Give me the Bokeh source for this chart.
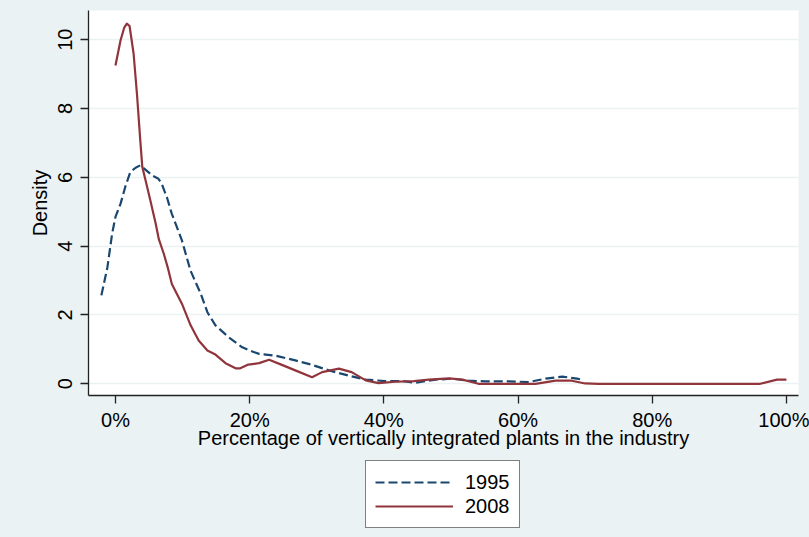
from bokeh.plotting import figure
from bokeh.models import Range1d, FixedTicker, Legend, LegendItem
from bokeh.layouts import column
from bokeh.embed import file_html
from bokeh.resources import INLINE

# ---- data (x in percent of vertically integrated plants, y = density) ----
x_1995 = [-2.1, -1.2, -0.5, 0.0, 0.75, 1.5, 2.2, 3.0, 3.7, 4.5, 5.5, 6.4, 6.9, 7.7,
          8.4, 9.9, 11.2, 12.7, 13.7, 14.9, 16.9, 18.9, 20.5, 21.4, 23.8, 26.8,
          29.3, 31.8, 34.7, 37.3, 40.2, 42.9, 44.7, 47.7, 50.2, 52.6, 55.1, 58.6,
          61.6, 64.1, 66.6, 68.8, 69.6]
density_1995 = [2.57, 3.39, 4.36, 4.85, 5.23, 5.75, 6.15, 6.28, 6.35, 6.22, 6.05, 5.96,
                5.81, 5.40, 4.94, 4.17, 3.28, 2.62, 2.08, 1.70, 1.35, 1.06, 0.93, 0.87,
                0.82, 0.68, 0.55, 0.39, 0.24, 0.12, 0.08, 0.08, 0.03, 0.12, 0.15, 0.09,
                0.07, 0.07, 0.05, 0.15, 0.21, 0.15, 0.12]

x_2008 = [0.0, 0.75, 1.3, 1.7, 2.1, 2.7, 3.2, 3.7, 4.0, 4.5, 5.2, 6.0, 6.45, 7.2, 7.85,
          8.4, 9.9, 11.2, 12.4, 13.7, 14.9, 16.4, 17.9, 18.6, 19.8, 21.4, 22.9, 24.8,
          26.8, 29.3, 30.8, 33.3, 35.2, 37.3, 39.2, 41.7, 44.5, 46.7, 49.7, 51.7, 54.1,
          62.6, 65.6, 68.0, 70.0, 72.0, 96.1, 98.6, 100.0]
density_2008 = [9.25, 9.98, 10.35, 10.47, 10.40, 9.60, 8.43, 7.07, 6.30, 5.90, 5.33, 4.65,
                4.21, 3.78, 3.34, 2.90, 2.33, 1.70, 1.26, 0.97, 0.85, 0.60, 0.45, 0.45,
                0.56, 0.60, 0.70, 0.55, 0.39, 0.19, 0.34, 0.44, 0.34, 0.10, 0.02, 0.06,
                0.08, 0.12, 0.16, 0.12, 0.00, 0.00, 0.09, 0.09, 0.01, 0.00, 0.00, 0.12,
                0.12]

series_names = ["1995", "2008"]
x_ticks = [0, 20, 40, 60, 80, 100]
x_tick_labels = ["0%", "20%", "40%", "60%", "80%", "100%"]
y_ticks = [0, 2, 4, 6, 8, 10]

BG = "#EAF2F3"
FONT = "Liberation Sans"
C1995 = "#1a476f"
C2008 = "#90353b"

# ---------------- main plot ----------------
p = figure(width=809, height=455, output_backend="svg", toolbar_location=None,
           x_range=Range1d(-4.02, 101.8), y_range=Range1d(-0.34, 10.85),
           min_border_left=88, min_border_right=11, min_border_top=10,
           min_border_bottom=60,
           background_fill_color="white", border_fill_color=BG,
           outline_line_color=None)

p.line(x_1995, density_1995, line_color=C1995, line_width=2.2,
       line_dash="9 4", line_join="round")
p.line(x_2008, density_2008, line_color=C2008, line_width=2.2,
       line_join="round")

p.xaxis.ticker = FixedTicker(ticks=x_ticks)
p.xaxis.major_label_overrides = {t: l for t, l in zip(x_ticks, x_tick_labels)}
p.yaxis.ticker = FixedTicker(ticks=y_ticks)
p.yaxis.major_label_orientation = "vertical"
p.xaxis.minor_tick_line_color = None
p.yaxis.minor_tick_line_color = None
for ax in (p.xaxis, p.yaxis):
    ax.axis_line_color = "#222222"
    ax.axis_line_width = 1.3
    ax.major_tick_line_color = "#222222"
    ax.major_tick_line_width = 1.3
    ax.major_tick_out = 8
    ax.major_tick_in = 0
    ax.major_label_text_font = FONT
    ax.major_label_text_font_size = "20px"
    ax.major_label_text_color = "black"
    ax.axis_label_text_font = FONT
    ax.axis_label_text_font_size = "20px"
    ax.axis_label_text_font_style = "normal"
    ax.axis_label_text_color = "black"

p.xaxis.axis_label = "Percentage of vertically integrated plants in the industry"
p.yaxis.axis_label = "Density"
p.xaxis.major_label_standoff = 5
p.xaxis.axis_label_standoff = -7
p.yaxis.major_label_standoff = 8
p.yaxis.axis_label_standoff = 5

p.xgrid.visible = False
p.ygrid.grid_line_color = BG
p.ygrid.grid_line_width = 1.5

# ---------------- legend strip below the plot ----------------
lg = figure(width=809, height=82, output_backend="svg", toolbar_location=None,
            x_range=Range1d(0, 1), y_range=Range1d(0, 1),
            x_axis_location=None, y_axis_location=None,
            min_border_left=88, min_border_right=11,
            min_border_top=0, min_border_bottom=0,
            background_fill_color=BG, border_fill_color=BG,
            outline_line_color=None)
lg.xgrid.visible = False
lg.ygrid.visible = False
k1 = lg.line(x_1995, density_1995, line_color=C1995, line_width=2.2,
             line_dash="9 4", visible=False)
k2 = lg.line(x_2008, density_2008, line_color=C2008, line_width=2.2,
             visible=False)

legend = Legend(items=[LegendItem(label=series_names[0], renderers=[k1]),
                       LegendItem(label=series_names[1], renderers=[k2])],
                location=(277, 9), orientation="vertical",
                border_line_color="black", border_line_width=1,
                background_fill_color="white", background_fill_alpha=1,
                inactive_fill_alpha=0,
                padding=9, spacing=0, margin=0,
                glyph_width=78, glyph_height=24, label_height=24,
                label_standoff=12,
                label_text_font=FONT, label_text_font_size="20px",
                label_text_color="black")
lg.add_layout(legend, "center")

layout = column(p, lg, spacing=0)
html = file_html(layout, INLINE)
html = html.replace("</head>", "<style>html, body { background-color: #EAF2F3; }</style></head>", 1)
open("out.html", "w").write(html)
